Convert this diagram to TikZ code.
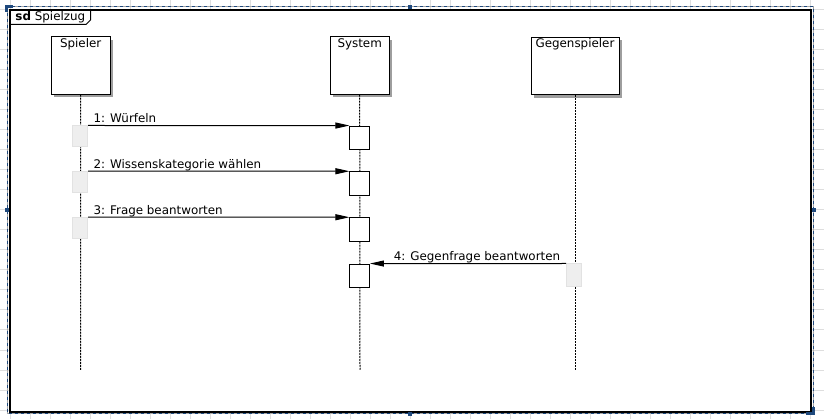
\documentclass[tikz,border=0pt]{standalone}
\usepackage{fontspec}
\setmainfont{DejaVu Sans}
\usetikzlibrary{arrows.meta,shadows}
\definecolor{handleblue}{RGB}{31,73,125}
\definecolor{gridgray}{RGB}{222,222,222}
\definecolor{idlefill}{RGB}{238,238,238}
\definecolor{idledraw}{RGB}{226,226,226}
\begin{document}
\begin{tikzpicture}[x=1pt, y=-1pt, line width=1pt,
  every node/.style={font=\fontsize{11.9}{14}\selectfont},
  head/.style={draw, fill=white, minimum width=59pt, minimum height=57.5pt, inner sep=0pt,
    drop shadow={shadow xshift=3pt, shadow yshift=-3pt, fill=black!38, opacity=1}},
  headtext/.style={anchor=north, inner sep=0pt, yshift=-1.5pt},
  act/.style={draw, fill=white, minimum width=19.5pt, minimum height=23.3pt, inner sep=0pt},
  idle/.style={draw=idledraw, fill=idlefill, minimum width=14.6pt, minimum height=21pt, inner sep=0pt},
  lifeline/.style={dash pattern=on 2pt off 1pt},
  msg/.style={-{Triangle[length=14pt, width=6pt]}},
  msgtext/.style={pos=0, inner sep=0pt, yshift=2.7pt}]
   \useasboundingbox (0,0) rectangle (824,419);
   \foreach \gx in {10,30,...,810} \draw[gridgray] (\gx,0) -- (\gx,419);
   \foreach \gy in {10,30,...,410} \draw[gridgray] (0,\gy) -- (824,\gy);
   % selection
   \draw[black!35] (7,7) rectangle (813.5,413.5);
   \draw[handleblue, dash pattern=on 3pt off 3pt] (7,7) rectangle (813.5,413.5);
   \draw[fill=white, line width=1.3pt] (10,10) rectangle (811,412);
   \draw (10,24.5) -- (86,24.5) -- (90.5,20) -- (90.5,10);
   \node[anchor=base west, inner sep=0pt] (title) at (15,20.7) {\textbf{sd} Spielzug};
   \fill[handleblue] (5,5) rectangle (12.5,8);
   \fill[handleblue] (5,5) rectangle (8,12.5);
   \fill[handleblue] (408,5) rectangle (412,9);
   \fill[handleblue] (5,208) rectangle (9,212);
   \fill[handleblue] (812,208) rectangle (816,212);
   \fill[handleblue] (408,412) rectangle (412,416);
   \fill[handleblue] (806,412) rectangle (815,415);
   \fill[handleblue] (812,407) rectangle (815,415);
   % lifelines
   \node[head, label={[headtext]north:Spieler}] (spieler) at (80.7,65.5) {};
   \node[head, label={[headtext]north:System}] (system) at (359.7,65.5) {};
   \node[head, minimum width=88pt, label={[headtext]north:Gegenspieler}] (gegen) at (575,65.8) {};
   \coordinate (spielerEnd) at (80.5,370);
   \coordinate (systemEnd) at (360,370);
   \coordinate (gegenEnd) at (575,370);
   \draw[lifeline] (spieler.south) -- (spielerEnd);
   \draw[lifeline] (system.south) -- (systemEnd);
   \draw[lifeline] (gegen.south) -- (gegenEnd);
   \foreach \i/\y in {1/137.7, 2/183.4, 3/229.4, 4/275.7}
      \node[act] (a\i) at (359.7,\y) {};
   \foreach \i/\y in {1/136.5, 2/182.2, 3/228.2}
      \node[idle] (s\i) at (80.2,\y) {};
   \node[idle, minimum width=15pt, minimum height=22.4pt] (g4) at (574.2,275.2) {};
   % messages
   \draw[msg] (s1.north east) -- (a1.north west)
      node[msgtext, anchor=base west, xshift=5pt] {1: Würfeln};
   \draw[msg] (s2.north east) -- (a2.north west)
      node[msgtext, anchor=base west, xshift=5pt] {2: Wissenskategorie wählen};
   \draw[msg] (s3.north east) -- (a3.north west)
      node[msgtext, anchor=base west, xshift=5pt] {3: Frage beantworten};
   \draw[msg] (g4.north west) -- (a4.north east)
      node[msgtext, anchor=base east, xshift=-5.5pt] {4: Gegenfrage beantworten};
\end{tikzpicture}
\end{document}
